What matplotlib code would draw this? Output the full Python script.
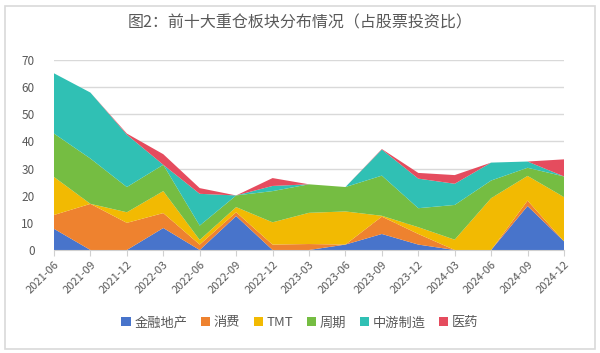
import matplotlib
matplotlib.use("Agg")
import matplotlib.pyplot as plt
from matplotlib.patches import FancyBboxPatch
import numpy as np

plt.rcParams['font.family'] = ['Noto Sans CJK SC', 'DejaVu Sans']

dates = ["2021-06", "2021-09", "2021-12", "2022-03", "2022-06", "2022-09", "2022-12",
         "2023-03", "2023-06", "2023-09", "2023-12", "2024-03", "2024-06", "2024-09", "2024-12"]
series_names = ["金融地产", "消费", "TMT", "周期", "中游制造", "医药"]
finance = [7.8, 0, 0, 8.1, 0, 12.5, 0, 0, 2.0, 5.9, 2.0, 0, 0, 16.2, 3.2]
consumer = [5.1, 17.0, 10.0, 5.5, 2.0, 1.4, 2.0, 2.2, 0, 6.4, 3.9, 0, 0, 2.0, 0]
tmt = [14.0, 0, 3.9, 8.1, 1.7, 1.9, 8.2, 11.5, 12.2, 0.3, 2.5, 3.8, 19.1, 9.1, 16.3]
cycle = [16.0, 16.7, 9.3, 9.7, 5.3, 4.3, 11.5, 10.5, 9.0, 14.8, 7.0, 12.8, 6.5, 3.0, 7.6]
midstream = [22.2, 24.3, 19.3, 0, 11.7, 0, 1.9, 0, 0, 9.6, 10.9, 7.8, 6.6, 2.3, 0]
pharma = [0, 0, 0.4, 3.9, 2.1, 0, 2.9, 0, 0, 0.2, 2.1, 3.2, 0, 0, 6.3]
colors = ["#4874CB", "#EE822F", "#F2BA02", "#75BD42", "#30C0B4", "#E54C5E"]

fig = plt.figure(figsize=(6.0, 3.53), dpi=100)
fig.patch.set_facecolor("white")
# outer border
border = FancyBboxPatch((0.008, 0.012), 0.984, 0.972, boxstyle="square,pad=0",
                        transform=fig.transFigure, fill=False, edgecolor="#D9D9D9", linewidth=1.2)
fig.patches.append(border)

ax = fig.add_axes([0.09, 0.2918, 0.85, 0.5382])
x = np.arange(len(dates))
ax.stackplot(x, finance, consumer, tmt, cycle, midstream, pharma,
             colors=colors, labels=series_names, linewidth=0, zorder=2)
ax.set_xlim(0, len(dates) - 1)
ax.set_ylim(0, 70)
ax.set_yticks(range(0, 71, 10))
ax.grid(axis='y', color="#D9D9D9", linewidth=1.0, zorder=0)
ax.set_axisbelow(True)
for s in ["left", "right", "top"]:
    ax.spines[s].set_visible(False)
ax.spines["bottom"].set_color("#D0D0D0")
ax.spines["bottom"].set_zorder(3)
ax.set_xticks(x)
ax.set_xticklabels(dates, rotation=45, ha='right', rotation_mode='anchor', fontsize=8, color="#595959")
ax.tick_params(axis='x', length=4, color="#D0D0D0", pad=3)
ax.tick_params(axis='y', length=0, labelsize=8.5, labelcolor="#595959", pad=14)

fig.text(0.5, 0.935, "图2：前十大重仓板块分布情况（占股票投资比）", ha='center', va='center',
         fontsize=11.5, color="#595959")

handles, labels = ax.get_legend_handles_labels()
leg = fig.legend(handles, labels, loc='center', bbox_to_anchor=(0.5, 0.085), ncol=6, frameon=False,
                 fontsize=9.5, handlelength=0.7, handleheight=0.7, handletextpad=0.3, columnspacing=1.0)
for t in leg.get_texts():
    t.set_color("#595959")

fig.savefig("out.png", dpi=100)
